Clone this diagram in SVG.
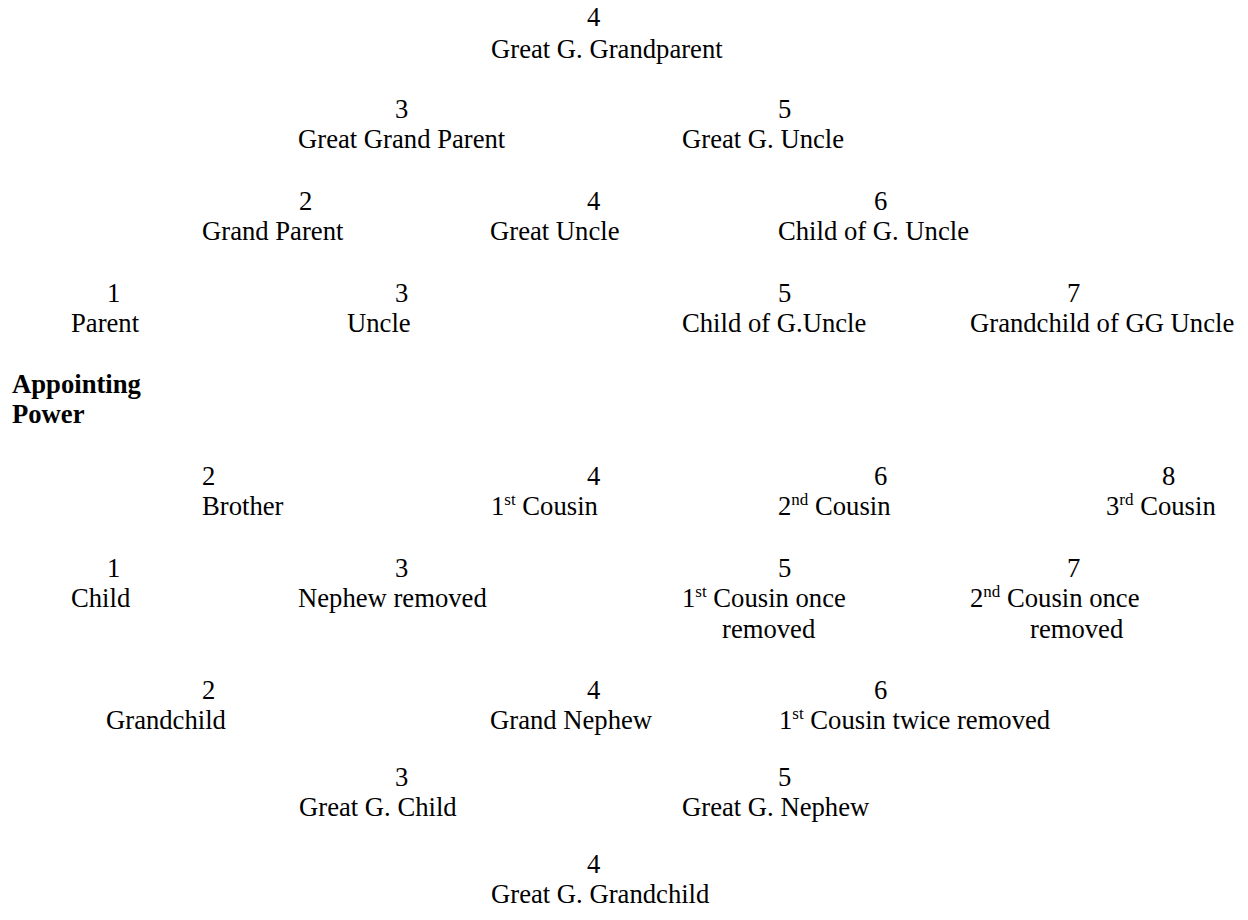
<svg xmlns="http://www.w3.org/2000/svg" width="1248" height="920" viewBox="0 0 1248 920">
<style>
text{font-family:"Liberation Serif","Times New Roman",serif;font-size:26.67px;fill:#000}
.b{font-weight:bold}
.sup{font-size:17px}
</style>
<rect width="1248" height="920" fill="#fff"/>
<g id="connectors"/>
<g id="n-great-g-grandparent"><text x="587" y="26">4</text><text x="491" y="58">Great G. Grandparent</text></g>
<g id="n-great-grand-parent"><text x="395" y="118">3</text><text x="298" y="148">Great Grand Parent</text></g>
<g id="n-great-g-uncle"><text x="778" y="118">5</text><text x="682" y="148">Great G. Uncle</text></g>
<g id="n-grand-parent"><text x="299" y="210">2</text><text x="202" y="240">Grand Parent</text></g>
<g id="n-great-uncle"><text x="587" y="210">4</text><text x="490" y="240">Great Uncle</text></g>
<g id="n-child-of-g-uncle-6"><text x="874" y="210">6</text><text x="778" y="240">Child of G. Uncle</text></g>
<g id="n-parent"><text x="107" y="302">1</text><text x="71" y="332">Parent</text></g>
<g id="n-uncle"><text x="395" y="302">3</text><text x="347" y="332">Uncle</text></g>
<g id="n-child-of-g-uncle-5"><text x="778" y="302">5</text><text x="682" y="332">Child of G.Uncle</text></g>
<g id="n-grandchild-of-gg-uncle"><text x="1067" y="302">7</text><text x="970" y="332">Grandchild of GG Uncle</text></g>
<g id="n-appointing-power"><text class="b" x="12" y="393">Appointing</text><text class="b" x="12" y="423">Power</text></g>
<g id="n-brother"><text x="202" y="485">2</text><text x="202" y="515">Brother</text></g>
<g id="n-1st-cousin"><text x="587" y="485">4</text><text x="491" y="515">1<tspan class="sup" dy="-10">st</tspan><tspan dy="10"> Cousin</tspan></text></g>
<g id="n-2nd-cousin"><text x="874" y="485">6</text><text x="778" y="515">2<tspan class="sup" dy="-10">nd</tspan><tspan dy="10"> Cousin</tspan></text></g>
<g id="n-3rd-cousin"><text x="1162" y="485">8</text><text x="1106" y="515">3<tspan class="sup" dy="-10">rd</tspan><tspan dy="10"> Cousin</tspan></text></g>
<g id="n-child"><text x="107" y="577">1</text><text x="71" y="607">Child</text></g>
<g id="n-nephew"><text x="395" y="577">3</text><text x="298" y="607">Nephew removed</text></g>
<g id="n-1st-cousin-once"><text x="778" y="577">5</text><text x="682" y="607">1<tspan class="sup" dy="-10">st</tspan><tspan dy="10"> Cousin once</tspan></text><text x="722" y="638">removed</text></g>
<g id="n-2nd-cousin-once"><text x="1067" y="577">7</text><text x="970" y="607">2<tspan class="sup" dy="-10">nd</tspan><tspan dy="10"> Cousin once</tspan></text><text x="1030" y="638">removed</text></g>
<g id="n-grandchild"><text x="202" y="699">2</text><text x="106" y="729">Grandchild</text></g>
<g id="n-grand-nephew"><text x="587" y="699">4</text><text x="490" y="729">Grand Nephew</text></g>
<g id="n-1st-cousin-twice"><text x="874" y="699">6</text><text x="779" y="729">1<tspan class="sup" dy="-10">st</tspan><tspan dy="10"> Cousin twice removed</tspan></text></g>
<g id="n-great-g-child"><text x="395" y="786">3</text><text x="299" y="816">Great G. Child</text></g>
<g id="n-great-g-nephew"><text x="778" y="786">5</text><text x="682" y="816">Great G. Nephew</text></g>
<g id="n-great-g-grandchild"><text x="587" y="873">4</text><text x="491" y="903">Great G. Grandchild</text></g>
</svg>
